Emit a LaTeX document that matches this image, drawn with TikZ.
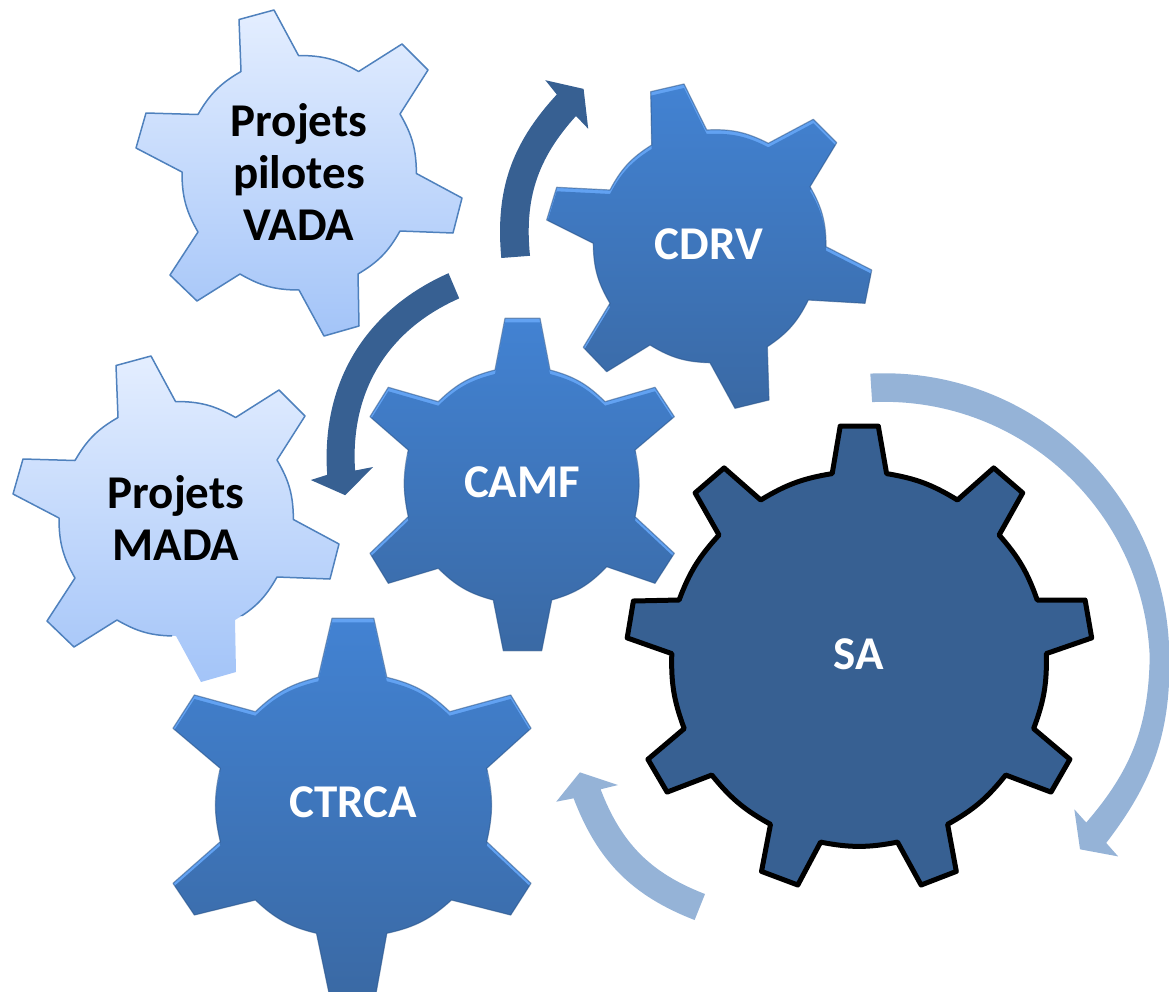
\documentclass[tikz,border=0pt]{standalone}
\usepackage{fontspec}
\setmainfont{Carlito}
\definecolor{dkblue}{HTML}{376092}
\definecolor{ltarrow}{HTML}{95B3D7}
\definecolor{paletop}{HTML}{E4EEFF}
\definecolor{palebot}{HTML}{A3C4F8}
\definecolor{paleline}{HTML}{4F81BD}
\definecolor{midtop}{HTML}{4282D2}
\definecolor{midbot}{HTML}{3A69A4}
\definecolor{midhi}{HTML}{62A2F2}
\definecolor{midedge}{HTML}{2E5688}
\newcommand\pathVADA{(241,71.5) -- (239,19.5) -- (274,10) -- (298.5,55.5) to[bend left=15] (358.6,71.5) -- (402,44) -- (428,70) -- (400,114) to[bend left=15] (416.4,173.5) -- (462,198) -- (453,233) -- (400,231) to[bend left=15] (358,274) -- (359,326) -- (324,336) -- (299,290) to[bend left=15] (240,274) -- (197,301) -- (170,275) -- (198,232) to[bend left=15] (182,172) -- (136,148) -- (146,113) -- (198,114.5) to[bend left=15] (241,71.5) -- cycle}
\newcommand\pathCDRV{(651.7,145) -- (650.7,91.7) -- (684,84) -- (706.7,130) to[bend left=15] (768.3,143.3) -- (813.3,119.3) -- (836.7,142.7) -- (810,186.7) to[bend left=15] (826,246.7) -- (871.7,270) -- (865,303.3) -- (808.3,300) to[bend left=15] (767.3,346.7) -- (769,400) -- (735,408.3) -- (710,362.7) to[bend left=15] (650,345) -- (606.7,371.7) -- (583.3,347.3) -- (610,303.3) to[bend left=15] (593.3,243.3) -- (546.7,220) -- (556.7,187.3) -- (610,190) to[bend left=15] (651.7,145) -- cycle}
\newcommand\pathCAMF{(495,370) -- (505,318.3) -- (540,318.3) -- (550,370) to[bend left=15] (605,401.7) -- (655,387.3) -- (674.3,416.7) -- (635,450) to[bend left=12] (635,516.7) -- (674.3,553.3) -- (655,583.3) -- (606.7,566.7) to[bend left=15] (551.7,600) -- (541.7,650.7) -- (503.3,650.7) -- (493.3,600) to[bend left=15] (438.3,568.3) -- (388.3,583.3) -- (370,553.3) -- (408.3,516.7) to[bend left=12] (408.3,450) -- (370,416.7) -- (388.3,387.3) -- (438.3,401.7) to[bend left=15] (495,370) -- cycle}
\newcommand\pathCTRCA{(318.3,677.3) -- (332,618.3) -- (373.8,618.3) -- (386.8,677.3) to[bend left=15] (449.7,711.7) -- (510.7,695) -- (531,728.3) -- (486.7,768.3) to[bend left=13] (486.7,841.7) -- (531,883.3) -- (510.7,915) -- (451.5,900) to[bend left=15] (386.8,933.3) -- (375.7,995) -- (329.4,995) -- (316.5,933.3) to[bend left=15] (255.4,900) -- (194.4,915) -- (173,883.3) -- (220.3,841.7) to[bend left=13] (220.3,768.3) -- (173,728.3) -- (194.4,695) -- (255.4,711.7) to[bend left=15] (318.3,677.3) -- cycle}
\newcommand\pathSA{(832.2,473.6) -- (840.2,426.1) -- (878.3,426.1) -- (886.6,473.6) to[bend left=11] (957.4,500) -- (993.7,467.9) -- (1022.7,492.9) -- (999.1,535) to[bend left=11] (1037.2,600) -- (1085.1,600) -- (1091.7,637.9) -- (1046.3,653.6) to[bend left=11] (1033.6,728.6) -- (1069.9,759.3) -- (1051,792.1) -- (1005.7,775) to[bend left=11] (947.6,824.3) -- (956.3,871.4) -- (921.1,885) -- (897.5,842.1) to[bend left=11] (820.6,842.1) -- (797.8,885) -- (761.5,871.4) -- (770.5,824.3) to[bend left=11] (711.8,775) -- (667.1,792.1) -- (647.9,759.3) -- (684.2,728.6) to[bend left=11] (671.8,653.6) -- (627.2,637.9) -- (633.4,601) -- (679.1,600) to[bend left=11] (719,535) -- (695.1,492.9) -- (724.1,467.9) -- (760.7,500) to[bend left=11] (832.2,473.6) -- cycle}
\newcommand\bluegear[1]{%
  \fill[midhi] #1;
  \begin{scope}
    \clip #1;
    \shade[yshift=-4pt,top color=midtop,bottom color=midbot] #1;
  \end{scope}
  \draw[midedge,line width=1.2pt,draw opacity=.55,line join=round] #1;
}
\tikzset{
  palegear/.style={top color=paletop,bottom color=palebot},
  paleedge/.style={draw=paleline,line width=1.5pt,line join=round},
  darklabel/.style={text=black,font=\fontsize{47}{52}\selectfont\bfseries,align=center,inner sep=0pt},
  whitelabel/.style={text=white,font=\fontsize{47}{52}\selectfont\bfseries,align=center,inner sep=0pt},
  darkarrow/.style={fill=dkblue},
  lightarrow/.style={fill=ltarrow}
}
\begin{document}
\begin{tikzpicture}[x=1pt,y=-1pt]
\useasboundingbox (0,0) rectangle (1169,991);
\clip (0,0) rectangle (1169,991);
% pale gears
\shade[palegear] \pathVADA;
\draw[paleedge] \pathVADA;
\begin{scope}[shift={(-123,346)}]
  \shade[palegear] \pathVADA;
\end{scope}
\begin{scope}
  \clip (0,0) rectangle (1169,616) (0,616) rectangle (172,991);
  \begin{scope}[shift={(-123,346)}]
    \draw[paleedge] \pathVADA;
  \end{scope}
\end{scope}
% dark arrows
\path[darkarrow] (501.3,258) to[bend left=24] (556.8,94.5) -- (545.3,80.2) -- (583.6,88.9) -- (588.2,128.8) -- (576,116) to[bend right=24] (530,255.8) -- cycle;
\path[darkarrow] (448.5,273.2) to[bend right=35] (327.2,474.8) -- (310.8,480) -- (345.2,495.2) -- (373.1,467) -- (355.1,470.5) to[bend left=35] (459.2,298.4) -- cycle;
% blue gears
\bluegear{\pathCDRV}
\bluegear{\pathCAMF}
\bluegear{\pathCTRCA}
% SA gear
\draw[fill=dkblue,draw=black,line width=5pt,line join=round] \pathSA;
% light arrows
\path[lightarrow] (870.3,373.6) to[bend left=45] (1169,645) to[bend left=20] (1106.2,842.9) -- (1118.1,856.4) -- (1080,849.3) -- (1074.3,809.3) -- (1086.2,822.5) to[bend right=20] (1149.7,656.4) to[bend right=45] (872.1,402.1) -- cycle;
\path[lightarrow] (694.6,920) to[bend left=24] (573.6,798.3) -- (556.2,801.7) -- (579.9,772.3) -- (618,785) -- (600.6,789.3) to[bend right=24] (705,894) -- cycle;
% labels
\node[darklabel] (vada) at (299,172) {Projets\\pilotes\\VADA};
\node[darklabel] (mada) at (176,518) {Projets\\MADA};
\node[whitelabel] (cdrv) at (709,244) {CDRV};
\node[whitelabel] (camf) at (522,482) {CAMF};
\node[whitelabel] (ctrca) at (353,802) {CTRCA};
\node[whitelabel] (sa) at (859,654) {SA};
\end{tikzpicture}
\end{document}
